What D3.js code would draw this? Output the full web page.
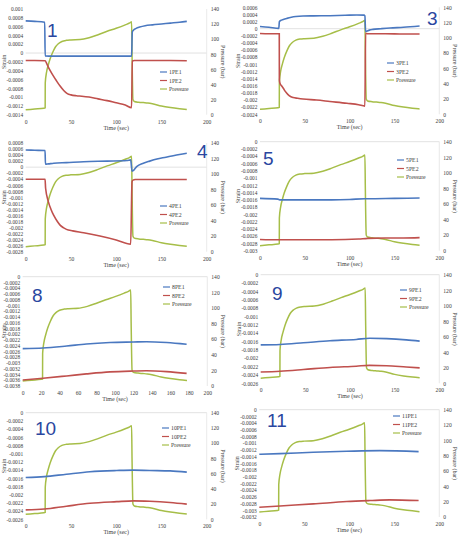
<!DOCTYPE html>
<html><head><meta charset="utf-8">
<script src="https://cdn.jsdelivr.net/npm/d3@7"></script>
<style>
body{margin:0;background:#fff;}
svg text{font-family:"Liberation Serif","Times New Roman",serif;fill:#404040;}
</style></head>
<body>
<svg id="c" width="461" height="540"></svg>
<script>
// ---- shared pressure record (bar) ----
const pressT = [0, 10, 20, 21.5, 21.6, 23, 25, 27, 30, 33, 36, 40, 45, 50, 60, 70, 80, 90, 100, 110, 115, 117, 117.5, 118.5, 120, 125, 130, 135, 140, 150, 160, 170, 178];
const pressV = [6.5, 7.5, 8.5, 9, 42, 56, 66, 74, 83, 90, 94, 97, 98.5, 99, 99.5, 102, 106, 110.5, 114.5, 119, 121.5, 123, 80, 20, 17.5, 16.5, 16, 15.5, 14.5, 11.5, 9.5, 8, 7];

// ---- panel 1 ----
const b1T = [0, 10, 21, 21.5, 30, 60, 90, 117, 117.8, 119, 122, 126, 132, 140, 150, 160, 170, 178];
const b1V = [0.00073, 0.00072, 0.0007, -0.000065, -0.00007, -0.00007, -0.00007, -0.00007, 0.00048, 0.00052, 0.00056, 0.00059, 0.00062, 0.00064, 0.00066, 0.00068, 0.0007, 0.00072];
const r1T = [0, 10, 21.5, 23, 26, 30, 34, 38, 42, 46, 50, 56, 62, 70, 80, 90, 100, 110, 117, 117.8, 120, 140, 160, 178];
const r1V = [-0.00017, -0.00017, -0.000175, -0.00023, -0.00036, -0.0005, -0.00063, -0.00075, -0.00085, -0.00092, -0.00095, -0.00097, -0.00098, -0.001, -0.00104, -0.00108, -0.00113, -0.00118, -0.00124, -0.00018, -0.00017, -0.00017, -0.00017, -0.000175];
// ---- panel 3 ----
const b3T = [0, 10, 21, 21.6, 23, 26, 30, 35, 40, 48, 60, 78, 95, 108, 116, 117, 117.8, 119, 122, 126, 135, 145, 160, 178];
const b3V = [0.00006, 0.00004, 0.00001, 0.0002, 0.00023, 0.00026, 0.00029, 0.00032, 0.00034, 0.000355, 0.00036, 0.000365, 0.000375, 0.000385, 0.00038, 0.00036, -0.00008, -0.00007, -0.00004, -0.00002, 0, 0.00002, 0.00004, 0.000075];
const r3T = [0, 10, 21.5, 21.6, 22.3, 24, 26, 28, 31, 34, 37, 42, 48, 63, 78, 97, 110, 117, 117.8, 120, 140, 160, 178];
const r3V = [-0.000135, -0.00014, -0.00014, -0.00144, -0.00153, -0.0016, -0.00167, -0.00175, -0.00184, -0.0019, -0.00193, -0.00195, -0.00197, -0.002, -0.00204, -0.00209, -0.00213, -0.00217, -0.00013, -0.00014, -0.00014, -0.00015, -0.00015];
// ---- panel 4 ----
const b4T = [0, 10, 21.4, 21.8, 25, 31, 45, 64, 90, 112, 116, 117.5, 118.5, 122.6, 130, 137, 145, 155, 163, 170, 178];
const b4V = [0.00057, 0.00056, 0.00055, 0.0001, 0.00011, 0.00013, 0.00015, 0.00018, 0.0002, 0.00022, 0.00024, -0.00013, -0.00012, 0.000016, 0.00013, 0.0002, 0.00027, 0.00033, 0.00038, 0.00042, 0.00046];
const r4T = [0, 10, 21.4, 22, 25, 28, 31, 35, 38, 42, 45, 52, 64, 82, 100, 116, 117.5, 118.5, 121, 140, 160, 178];
const r4V = [-0.0004, -0.0004, -0.0004, -0.0007, -0.00114, -0.0014, -0.0016, -0.0018, -0.00192, -0.00201, -0.00206, -0.00211, -0.00217, -0.00228, -0.00241, -0.00255, -0.00048, -0.00043, -0.00041, -0.00041, -0.00041, -0.00041];
// ---- panel 5 ----
const b5T = [0, 20, 22, 25, 50, 80, 100, 117, 120, 150, 178];
const b5V = [-0.00156, -0.00158, -0.0016, -0.0016, -0.0016, -0.0016, -0.00159, -0.00157, -0.00157, -0.00156, -0.00155];
const r5T = [0, 20, 50, 80, 110, 120, 140, 160, 178];
const r5V = [-0.00269, -0.0027, -0.0027, -0.0027, -0.00268, -0.00266, -0.00265, -0.00265, -0.00264];
// ---- panel 8 ----
const t8 = [0, 22, 47.6, 69, 94.6, 120, 134, 156, 177.6];
const b8V = [-0.0025, -0.00248, -0.00241, -0.00234, -0.00229, -0.00227, -0.00226, -0.00229, -0.00235];
const r8V = [-0.00359, -0.00353, -0.00345, -0.00338, -0.00331, -0.00328, -0.00327, -0.0033, -0.00336];
// ---- panel 9 ----
const t9 = [0, 21.6, 47.8, 77.6, 107, 122, 141, 163, 178];
const b9V = [-0.00168, -0.00167, -0.00163, -0.00158, -0.00155, -0.00152, -0.00153, -0.00156, -0.00159];
const r9V = [-0.00233, -0.00231, -0.00227, -0.00222, -0.00219, -0.00217, -0.00218, -0.00221, -0.00223];
// ---- panel 10 ----
const t10 = [0, 20.6, 45, 71, 100.5, 119, 137, 159.5, 178];
const b10V = [-0.00158, -0.00156, -0.0015, -0.00144, -0.00141, -0.0014, -0.00141, -0.00142, -0.00145];
const r10V = [-0.00237, -0.00235, -0.00228, -0.00221, -0.00217, -0.00215, -0.00216, -0.00219, -0.00223];
// ---- panel 11 ----
const b11T = [0, 23, 60, 97, 134, 177];
const b11V = [-0.00133, -0.00131, -0.00127, -0.00124, -0.00122, -0.00125];
const r11T = [0, 23, 60, 97, 123, 145, 177];
const r11V = [-0.00291, -0.00287, -0.00281, -0.00274, -0.00271, -0.00269, -0.00271];

// axis definitions
const pressTicks = [0, 20, 40, 60, 80, 100, 120, 140];
const timeTicks50 = [0, 50, 100, 150, 200];
const timeTicks20 = [0, 20, 40, 60, 80, 100, 120, 140, 160, 180, 200];
const seriesNames = ["PE1", "PE2", "Pressure"];
const colors = ["#4a78c0", "#c0504d", "#a6be48"];

// layout (positions only)
const panels = [
  {id:"1",  dom:[-0.0014,0.001],  tt:timeTicks50, box:[25.7,9,206.7,114.7],   leg:[160,72],  num:[47,37],   b:[b1T,b1V], r:[r1T,r1V]},
  {id:"3",  dom:[-0.0024,0.0006], tt:timeTicks50, box:[260,7.3,439.3,114.3],  leg:[387,63],  num:[427,25],  b:[b3T,b3V], r:[r3T,r3V]},
  {id:"4",  dom:[-0.0028,0.0008], tt:timeTicks50, box:[25.7,143,206.7,251.7], leg:[160,206], num:[197,158], b:[b4T,b4V], r:[r4T,r4V]},
  {id:"5",  dom:[-0.003,0],       tt:timeTicks50, box:[260,141.7,439.3,250.7],leg:[397,160], num:[263,165], b:[b5T,b5V], r:[r5T,r5V]},
  {id:"8",  dom:[-0.0038,0],      tt:timeTicks20, box:[22.7,276.7,207.3,386], leg:[163,287], num:[32,302],  b:[t8,b8V],  r:[t8,r8V]},
  {id:"9",  dom:[-0.0026,0],      tt:timeTicks50, box:[260.7,274.7,439.3,383.3],leg:[400,290],num:[272,300], b:[t9,b9V],  r:[t9,r9V]},
  {id:"10", dom:[-0.0026,0],      tt:timeTicks50, box:[25.7,412.7,206.7,519.3],leg:[162,428], num:[35,435],  b:[t10,b10V],r:[t10,r10V]},
  {id:"11", dom:[-0.0032,0],      tt:timeTicks50, box:[259.3,409.7,439.3,517], leg:[393,416], num:[267,427], b:[b11T,b11V],r:[r11T,r11V]}
];

const svg = d3.select("#c");
const fmt = v => String(+v.toFixed(4));

panels.forEach(p => {
  const [x0,y0,x1,y1] = p.box;
  const x = d3.scaleLinear().domain([0,200]).range([x0,x1]);
  const y = d3.scaleLinear().domain(p.dom).range([y1,y0]);
  const yr = d3.scaleLinear().domain([0,140]).range([y1,y0]);
  const g = svg.append("g");
  const strainTicks = d3.range(Math.round(p.dom[0]/0.0002), Math.round(p.dom[1]/0.0002)+1).map(k => +(k*0.0002).toFixed(4));

  // zero line & right axis line
  g.append("line").attr("x1",x0).attr("x2",x1).attr("y1",y(0)).attr("y2",y(0)).attr("stroke","#d9d9d9").attr("stroke-width",0.8);
  g.append("line").attr("x1",x1).attr("x2",x1).attr("y1",y0).attr("y2",y1).attr("stroke","#e3e3e3").attr("stroke-width",0.8);

  // left axis
  const la = g.append("g").attr("transform",`translate(${x0},0)`)
    .call(d3.axisLeft(y).tickValues(strainTicks).tickFormat(fmt).tickSize(0).tickPadding(2.5));
  la.select(".domain").remove();
  la.selectAll("text").attr("font-size",5.4).attr("font-family","Liberation Serif").attr("fill","#404040");
  // right axis
  const ra = g.append("g").attr("transform",`translate(${x1},0)`)
    .call(d3.axisRight(yr).tickValues(pressTicks).tickSize(0).tickPadding(4));
  ra.select(".domain").remove();
  ra.selectAll("text").attr("font-size",5.6).attr("font-family","Liberation Serif").attr("fill","#404040");
  // bottom axis
  const ba = g.append("g").attr("transform",`translate(0,${y1})`)
    .call(d3.axisBottom(x).tickValues(p.tt).tickSize(0).tickPadding(5));
  ba.select(".domain").remove();
  ba.selectAll("text").attr("font-size",5.6).attr("font-family","Liberation Serif").attr("fill","#404040");

  // titles
  g.append("text").attr("x",(x0+x1)/2).attr("y",y1+15).attr("text-anchor","middle").attr("font-size",6).text("Time (sec)");
  g.append("text").attr("transform",`translate(${Math.max(x0-20,5.5)},${(y0+y1)/2}) rotate(-90)`).attr("text-anchor","middle").attr("font-size",6).text("Strain");
  g.append("text").attr("transform",`translate(${x1+14},${(y0+y1)/2}) rotate(90)`).attr("text-anchor","middle").attr("font-size",6).text("Pressure (bar)");

  // series
  const line = d3.line().curve(d3.curveMonotoneX);
  const mk = (T,V,sc) => line(T.map((t,i)=>[x(t), sc(V[i])]));
  g.append("path").attr("d", mk(pressT,pressV,yr)).attr("fill","none").attr("stroke",colors[2]).attr("stroke-width",1.5);
  g.append("path").attr("d", mk(p.b[0],p.b[1],y)).attr("fill","none").attr("stroke",colors[0]).attr("stroke-width",1.6);
  g.append("path").attr("d", mk(p.r[0],p.r[1],y)).attr("fill","none").attr("stroke",colors[1]).attr("stroke-width",1.6);

  // legend
  const names = [p.id+seriesNames[0], p.id+seriesNames[1], seriesNames[2]];
  names.forEach((n,i) => {
    const ly = p.leg[1] + i*8.5;
    g.append("line").attr("x1",p.leg[0]).attr("x2",p.leg[0]+7).attr("y1",ly).attr("y2",ly).attr("stroke",colors[i]).attr("stroke-width",1.2);
    g.append("text").attr("x",p.leg[0]+9).attr("y",ly+2).attr("font-size",5.8).text(n);
  });

  // panel number
  g.append("text").attr("x",p.num[0]).attr("y",p.num[1])
    .attr("font-size",19).style("font-family","'Liberation Sans',Arial,sans-serif").style("fill","#2a46a0").text(p.id);
});
</script>
</body></html>
